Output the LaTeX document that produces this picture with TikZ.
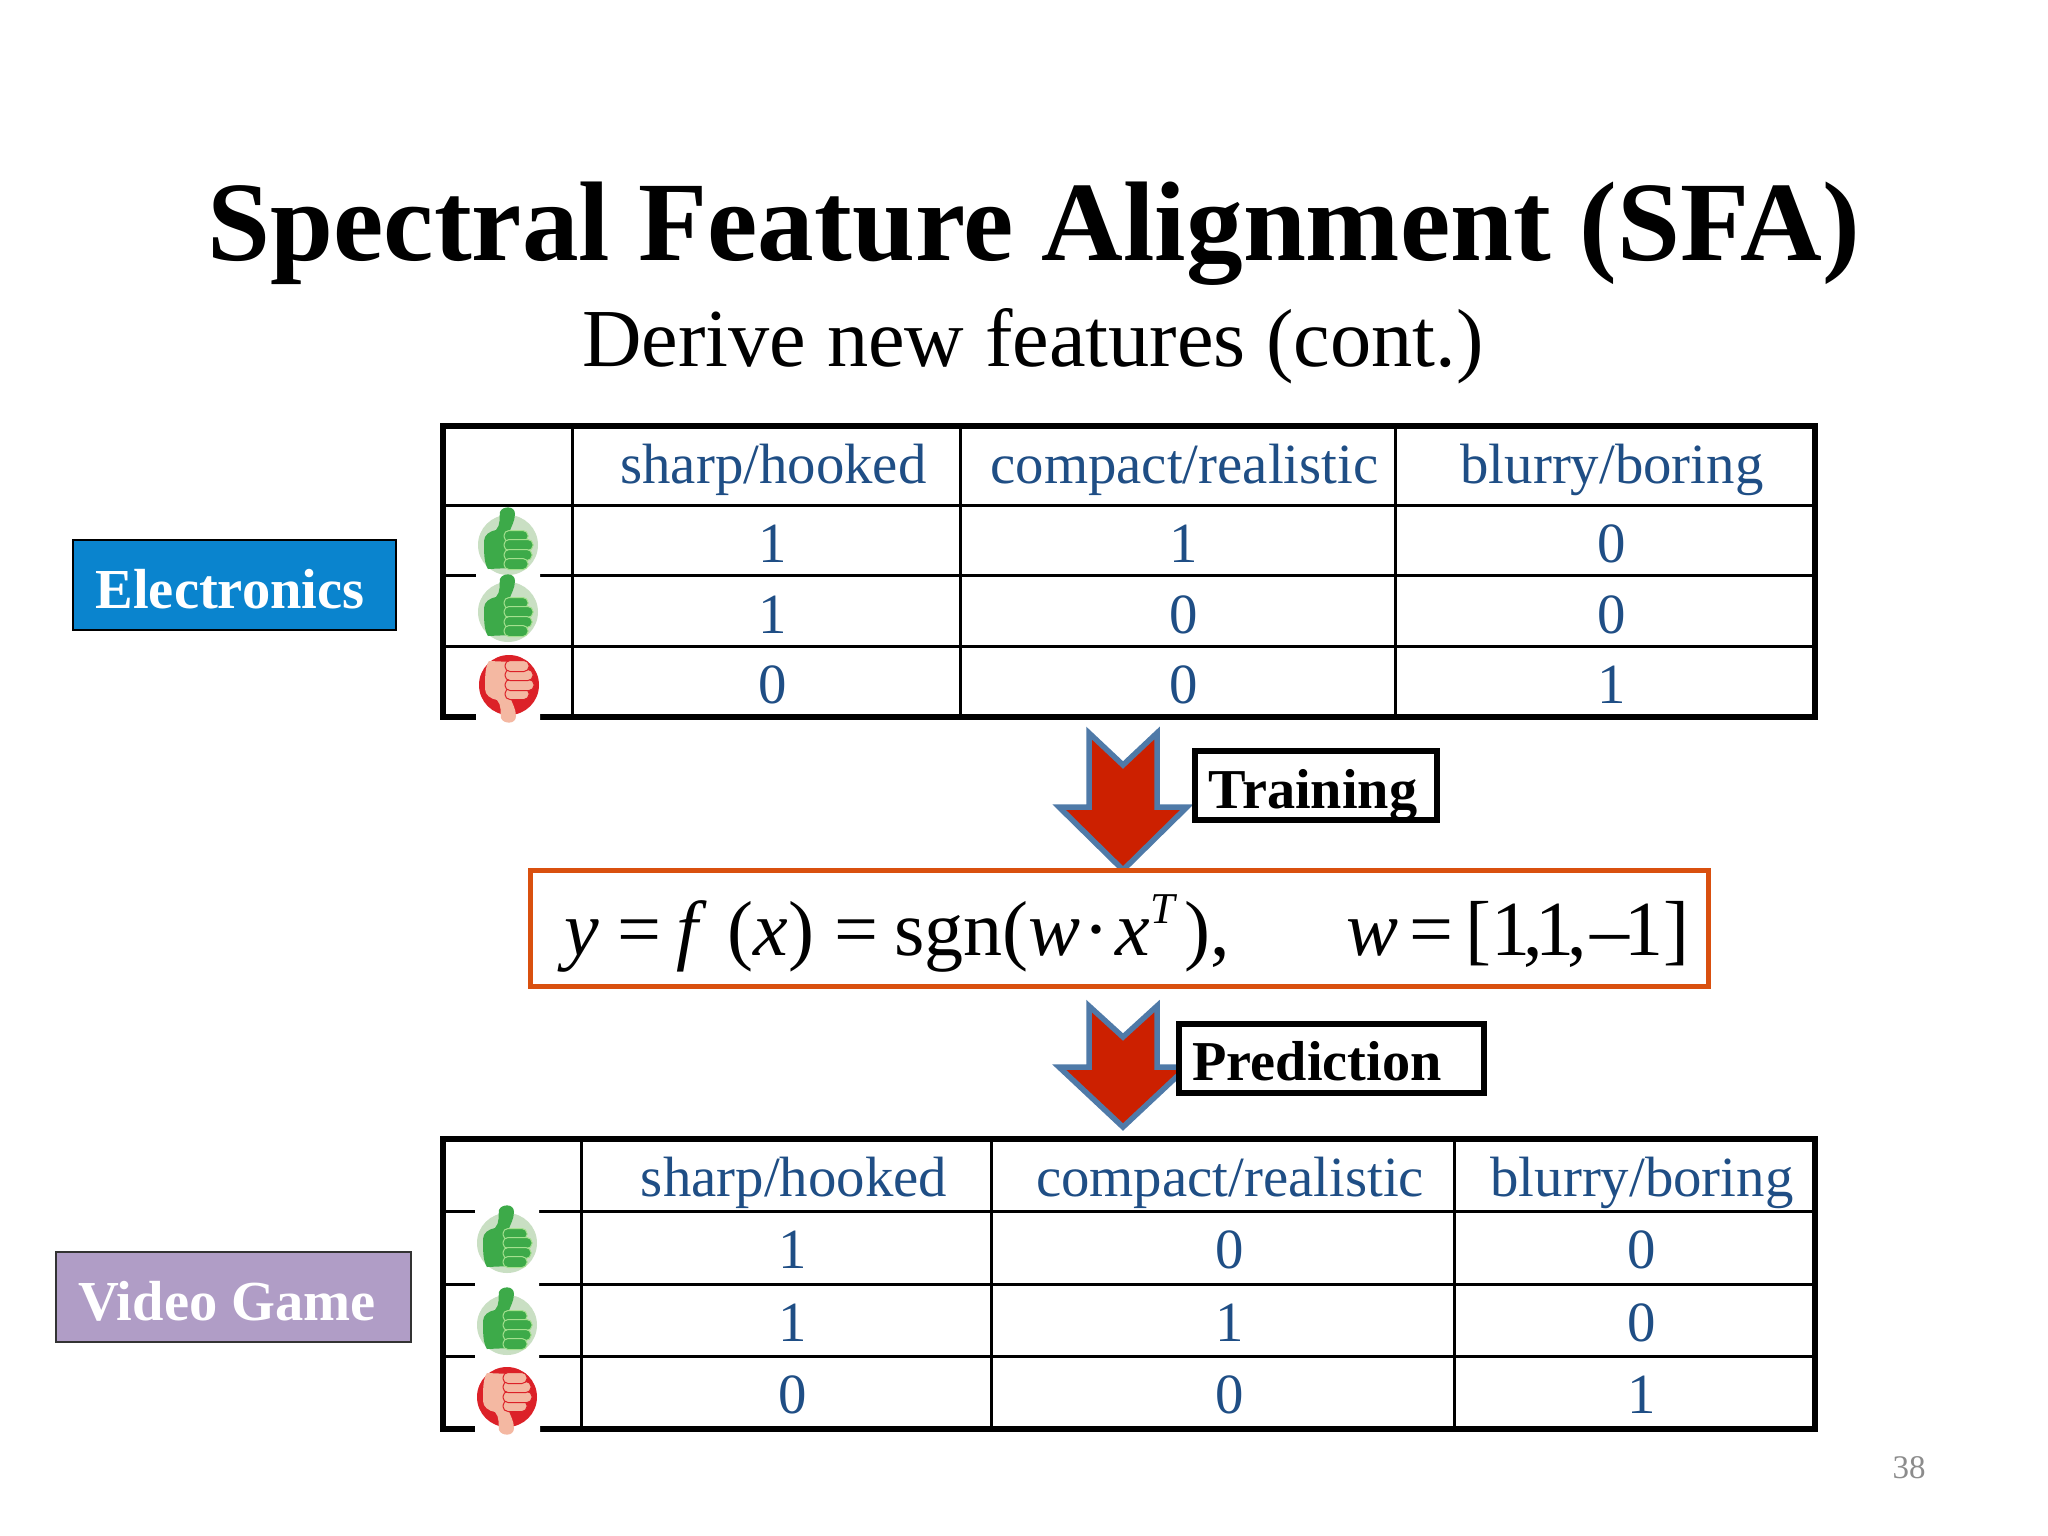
\documentclass[tikz,border=0pt]{standalone}
\usepackage{fontspec}
\setmainfont{Liberation Serif}
\definecolor{cellblue}{HTML}{1F4E85}
\definecolor{upbg}{HTML}{C9DFC3}
\definecolor{upfg}{HTML}{3DAA49}
\definecolor{upln}{HTML}{A5E08F}
\definecolor{dnbg}{HTML}{DC2128}
\definecolor{dnfg}{HTML}{F4B8A2}
\definecolor{arrowred}{HTML}{CC2000}
\definecolor{arrowblue}{HTML}{4F7AA8}
\definecolor{boxorange}{HTML}{D9500F}
\definecolor{elec}{HTML}{0A84CE}
\definecolor{video}{HTML}{B09DC6}
\newcommand{\cellsize}{\fontsize{56.8}{60}\selectfont}
\tikzset{
  x=1pt,y=-1pt,
  txt/.style={inner sep=0,anchor=base},
  hdr/.style={txt,text=cellblue,font=\cellsize},
  tag/.style={txt,font=\fontsize{56.3}{60}\selectfont\bfseries},
  tagw/.style={txt,text=white,font=\fontsize{56.5}{60}\selectfont\bfseries},
  frm/.style={txt,anchor=base west,font=\fontsize{78}{82}\selectfont},
  outer/.style={line width=6pt,line cap=rect},
  inner/.style={line width=3pt},
  blockarrow/.style={fill=arrowred,draw=arrowblue,line width=5.5pt,miter limit=10},
  labelbox/.style={draw=black,line width=5.5pt,fill=white},
}
% hand icon: #1 x, #2 y, #3 vertical flip (1 up, -1 down), #4 disc, #5 hand, #6 finger outline
\newcommand{\handicon}[6]{%
  \begin{scope}[shift={(#1,#2)},yscale=#3]
    \fill[#4] (0,0) circle[radius=30];
    \fill[#5] (-24,-4) .. controls (-24,-10) and (-18,-14) .. (-12,-15)
      .. controls (-7,-20) and (-9,-28) .. (-8,-33)
      .. controls (-6,-39) and (7,-40) .. (7,-31)
      .. controls (7,-24) and (3,-18) .. (1,-12) -- (4,23) -- (-20,24)
      .. controls (-24,18) and (-24,8) .. cycle;
    \foreach \fy/\fw in {-9/20,0/25,10/24,19/20}{
      \filldraw[fill=#5,draw=#6,line width=1pt,rounded corners=5pt]
        (-4,\fy-5.5) rectangle (\fw,\fy+5.5);
    }
  \end{scope}}
\begin{document}
\begin{tikzpicture}
\useasboundingbox (0,0) rectangle (2048,1536);
\fill[white] (0,0) rectangle (2048,1536);
% titles
\node[txt,font=\fontsize{113.2}{120}\selectfont\bfseries] (title) at (1034,260) {Spectral Feature Alignment (SFA)};
\node[txt,font=\fontsize{82.4}{86}\selectfont] (sub) at (1033,366) {Derive new features (cont.)};
% table 1
\draw[inner] (443,505) -- (1815,505) (443,575) -- (1815,575) (443,646) -- (1815,646);
\draw[inner] (572,426) -- (572,717) (960,426) -- (960,717) (1395,426) -- (1395,717);
\draw[outer] (443,426) rectangle (1815,717);
\fill[white] (476,570) rectangle (540,580) (476,712) rectangle (540,721);
\node[hdr] (a1) at (773.5,483) {sharp/hooked};
\node[hdr] (a2) at (1184.5,483) {compact/realistic};
\node[hdr] (a3) at (1612,483) {blurry/boring};
\node[hdr] (b1) at (773,562) {1};
\node[hdr] (b2) at (1184,562) {1};
\node[hdr] (b3) at (1612,562) {0};
\node[hdr] (c1) at (773,633) {1};
\node[hdr] (c2) at (1184,633) {0};
\node[hdr] (c3) at (1612,633) {0};
\node[hdr] (d1) at (773,703) {0};
\node[hdr] (d2) at (1184,703) {0};
\node[hdr] (d3) at (1612,703) {1};
\handicon{508}{545}{1}{upbg}{upfg}{upln}
\handicon{508}{612}{1}{upbg}{upfg}{upln}
\handicon{509}{685}{-1}{dnbg}{dnfg}{dnbg}
% table 2
\draw[inner] (443,1211) -- (1815,1211) (443,1284) -- (1815,1284) (443,1356) -- (1815,1356);
\draw[inner] (581,1139) -- (581,1429) (991,1139) -- (991,1429) (1454,1139) -- (1454,1429);
\draw[outer] (443,1139) rectangle (1815,1429);
\fill[white] (475,1206) rectangle (539,1216) (475,1281) rectangle (539,1287) (475,1353) rectangle (539,1359) (475,1424) rectangle (540,1433);
\node[hdr] (e1) at (794,1196) {sharp/hooked};
\node[hdr] (e2) at (1230,1196) {compact/realistic};
\node[hdr] (e3) at (1642,1196) {blurry/boring};
\node[hdr] (f1) at (793,1268) {1};
\node[hdr] (f2) at (1230,1268) {0};
\node[hdr] (f3) at (1642,1268) {0};
\node[hdr] (g1) at (793,1341) {1};
\node[hdr] (g2) at (1230,1341) {1};
\node[hdr] (g3) at (1642,1341) {0};
\node[hdr] (h1) at (793,1413) {0};
\node[hdr] (h2) at (1230,1413) {0};
\node[hdr] (h3) at (1642,1413) {1};
\handicon{507}{1243}{1}{upbg}{upfg}{upln}
\handicon{507}{1325}{1}{upbg}{upfg}{upln}
\handicon{507}{1397}{-1}{dnbg}{dnfg}{dnbg}
% side tags
\draw[fill=elec,draw=black,line width=1.5pt] (73,540) rectangle (396,630);
\node[tagw] (elecl) at (230,608) {Electronics};
\draw[fill=video,draw=black!80,line width=1.5pt] (56,1252) rectangle (411,1342);
\node[tagw] (vidl) at (227,1320) {Video Game};
% block arrows
\draw[blockarrow] (1089,733) -- (1123,765) -- (1157,733) -- (1157,807) -- (1187,807) -- (1123,870) -- (1059,807) -- (1089,807) -- cycle;
\draw[blockarrow] (1089,1006) -- (1123,1037) -- (1157,1006) -- (1157,1067) -- (1187,1067) -- (1123,1127) -- (1059,1067) -- (1089,1067) -- cycle;
% label boxes
\draw[labelbox] (1195,751) rectangle (1437,820);
\node[tag] (trn) at (1313,808) {Training};
\draw[labelbox] (1179,1024) rectangle (1484,1093);
\node[tag] (prd) at (1317,1080) {Prediction};
% formula
\draw[draw=boxorange,fill=white,line width=5pt] (530,870) rectangle (1708,986);
\node[frm] (fa) at (564,955) {\textit{y}\kern19pt=\kern15pt\textit{f}\kern20pt(\textit{x})\kern20pt=\kern16pt sgn(\textit{w}\kern3pt·\kern6pt\textit{x}\raisebox{32pt}{\fontsize{44}{46}\selectfont\textit{T}}\kern7pt),};
\node[frm] (fb) at (1346,955) {\textit{w}\kern11pt=\kern12pt[1\kern-7pt,\kern-7pt 1\kern-7pt,\kern3pt–\kern-5pt 1]};
% page number
\node[txt,text=black!45,font=\fontsize{33}{36}\selectfont] (pg) at (1909,1478) {38};
\end{tikzpicture}
\end{document}
